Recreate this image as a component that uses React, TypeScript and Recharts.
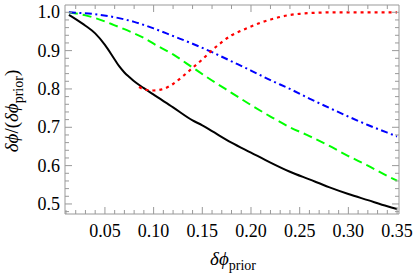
import { Line, LineChart, XAxis, YAxis } from 'recharts'

// values
const blackX = [0.013, 0.02, 0.03, 0.04, 0.05, 0.06, 0.065, 0.07, 0.075, 0.08, 0.09, 0.1, 0.12, 0.14, 0.15, 0.16, 0.18, 0.2, 0.22, 0.24, 0.26, 0.28, 0.3, 0.32, 0.34, 0.35]
const blackY = [0.993, 0.982, 0.965, 0.945, 0.915, 0.877, 0.858, 0.843, 0.831, 0.82, 0.802, 0.785, 0.752, 0.718, 0.705, 0.69, 0.66, 0.634, 0.608, 0.584, 0.564, 0.544, 0.526, 0.51, 0.494, 0.487]

const greenX = [0.013, 0.02, 0.03, 0.04, 0.05, 0.06, 0.07, 0.08, 0.09, 0.1, 0.12, 0.14, 0.16, 0.18, 0.2, 0.22, 0.24, 0.26, 0.28, 0.3, 0.32, 0.34, 0.35]
const greenY = [1.0, 0.997, 0.992, 0.985, 0.976, 0.966, 0.956, 0.945, 0.933, 0.918, 0.89, 0.856, 0.822, 0.79, 0.758, 0.728, 0.7, 0.677, 0.652, 0.625, 0.6, 0.573, 0.561]

const blueX = [0.013, 0.02, 0.04, 0.06, 0.08, 0.1, 0.12, 0.14, 0.16, 0.18, 0.2, 0.22, 0.24, 0.26, 0.28, 0.3, 0.32, 0.34, 0.35]
const blueY = [1.0, 0.999, 0.995, 0.987, 0.975, 0.958, 0.938, 0.918, 0.896, 0.872, 0.848, 0.823, 0.8, 0.775, 0.751, 0.728, 0.706, 0.686, 0.676]

const redX = [0.085, 0.09, 0.095, 0.1, 0.105, 0.11, 0.12, 0.13, 0.14, 0.15, 0.16, 0.17, 0.18, 0.19, 0.2, 0.21, 0.22, 0.23, 0.24, 0.25, 0.26, 0.27, 0.28, 0.3, 0.32, 0.35]
const redY = [0.805, 0.799, 0.797, 0.796, 0.797, 0.8, 0.813, 0.833, 0.855, 0.877, 0.901, 0.922, 0.94, 0.952, 0.963, 0.973, 0.981, 0.988, 0.993, 0.996, 0.998, 0.999, 1.0, 1.0, 1.0, 1.0]

const bottomTicks = [0.01, 0.02, 0.03, 0.04, 0.05, 0.06, 0.07, 0.08, 0.09, 0.1, 0.11, 0.12, 0.13, 0.14, 0.15, 0.16, 0.17, 0.18, 0.19, 0.2, 0.21, 0.22, 0.23, 0.24, 0.25, 0.26, 0.27, 0.28, 0.29, 0.3, 0.31, 0.32, 0.33, 0.34, 0.35]
const topTicks = [0.02, 0.04, 0.06, 0.08, 0.1, 0.12, 0.14, 0.16, 0.18, 0.2, 0.22, 0.24, 0.26, 0.28, 0.3, 0.32, 0.34]
const sideTicks = [0.48, 0.5, 0.52, 0.54, 0.56, 0.58, 0.6, 0.62, 0.64, 0.66, 0.68, 0.7, 0.72, 0.74, 0.76, 0.78, 0.8, 0.82, 0.84, 0.86, 0.88, 0.9, 0.92, 0.94, 0.96, 0.98, 1.0]

const xDomain = [0.009, 0.352]
const yDomain = [0.4738, 1.019]

const frame = '#999'
const serif = 'Liberation Serif'

const pts = (xs: number[], ys: number[]) => xs.map((x, i) => ({ x, y: ys[i] }))
const isStep = (v: number, n: number) => Math.abs(v * n - Math.round(v * n)) < 1e-6

function BottomTick({ x, y, payload }: any) {
  const v = payload.value
  const major = isStep(v, 20)
  return (
    <g>
      <line x1={x} x2={x} y1={y} y2={y - (major ? 7 : 4)} stroke={frame} />
      {major && (
        <text x={x} y={y + 23} textAnchor="middle" fontFamily={serif} fontSize={18} fill="#000">
          {v.toFixed(2)}
        </text>
      )}
    </g>
  )
}

function TopTick({ x, y, payload }: any) {
  const major = isStep(payload.value, 10)
  return <line x1={x} x2={x} y1={y} y2={y + (major ? 7 : 4)} stroke={frame} />
}

function LeftTick({ x, y, payload }: any) {
  const v = payload.value
  const major = isStep(v, 10)
  return (
    <g>
      <line x1={x} x2={x + (major ? 7 : 4)} y1={y} y2={y} stroke={frame} />
      {major && (
        <text x={x - 5} y={y + 6} textAnchor="end" fontFamily={serif} fontSize={18} fill="#000">
          {v.toFixed(1)}
        </text>
      )}
    </g>
  )
}

function RightTick({ x, y, payload }: any) {
  const major = isStep(payload.value, 10)
  return <line x1={x} x2={x - (major ? 7 : 4)} y1={y} y2={y} stroke={frame} />
}

const xLabel = () => (
  <text x={233} y={265} textAnchor="middle" fontFamily={serif} fontSize={19} fill="#000">
    <tspan fontStyle="italic">δϕ</tspan>
    <tspan fontSize={14} dy={5}>prior</tspan>
  </text>
)

const yLabel = () => (
  <text
    transform="rotate(-90)"
    x={-111}
    y={18}
    textAnchor="middle"
    fontFamily={serif}
    fontSize={19}
    fill="#000"
  >
    <tspan fontStyle="italic">δϕ</tspan>
    <tspan>/(</tspan>
    <tspan fontStyle="italic">δϕ</tspan>
    <tspan fontSize={14} dy={5}>prior</tspan>
    <tspan dy={-5}>)</tspan>
  </text>
)

export default function App() {
  return (
    <div style={{ position: 'fixed', left: 0, top: 0, background: '#fff' }}>
      <LineChart width={415} height={277} margin={{ top: 0, right: 0, left: 0, bottom: 0 }}>
        <XAxis
          xAxisId="bottom"
          type="number"
          dataKey="x"
          domain={xDomain}
          allowDataOverflow
          ticks={bottomTicks}
          interval={0}
          tickSize={0}
          tickMargin={0}
          tickLine={false}
          tick={<BottomTick />}
          axisLine={{ stroke: frame }}
          height={63}
          label={xLabel}
        />
        <XAxis
          xAxisId="top"
          orientation="top"
          type="number"
          dataKey="x"
          domain={xDomain}
          allowDataOverflow
          ticks={topTicks}
          interval={0}
          tickSize={0}
          tickMargin={0}
          tickLine={false}
          tick={<TopTick />}
          axisLine={{ stroke: frame }}
          height={5}
        />
        <YAxis
          yAxisId="left"
          type="number"
          domain={yDomain}
          allowDataOverflow
          ticks={sideTicks}
          interval={0}
          tickSize={0}
          tickMargin={0}
          tickLine={false}
          tick={<LeftTick />}
          axisLine={{ stroke: frame }}
          width={65}
          label={yLabel}
        />
        <YAxis
          yAxisId="right"
          orientation="right"
          type="number"
          domain={yDomain}
          allowDataOverflow
          ticks={sideTicks}
          interval={0}
          tickSize={0}
          tickMargin={0}
          tickLine={false}
          tick={<RightTick />}
          axisLine={{ stroke: frame }}
          width={16}
        />
        <Line
          xAxisId="bottom"
          yAxisId="left"
          data={pts(blackX, blackY)}
          dataKey="y"
          type="monotone"
          stroke="#000"
          strokeWidth={2}
          dot={false}
          isAnimationActive={false}
        />
        <Line
          xAxisId="bottom"
          yAxisId="left"
          data={pts(greenX, greenY)}
          dataKey="y"
          type="monotone"
          stroke="#00ff00"
          strokeWidth={2}
          strokeDasharray="9 5"
          dot={false}
          isAnimationActive={false}
        />
        <Line
          xAxisId="bottom"
          yAxisId="left"
          data={pts(blueX, blueY)}
          dataKey="y"
          type="monotone"
          stroke="#0000ff"
          strokeWidth={2}
          strokeDasharray="7 3.5 2 3.5"
          dot={false}
          isAnimationActive={false}
        />
        <Line
          xAxisId="bottom"
          yAxisId="left"
          data={pts(redX, redY)}
          dataKey="y"
          type="monotone"
          stroke="#ff0000"
          strokeWidth={2.2}
          strokeDasharray="3 4"
          dot={false}
          isAnimationActive={false}
        />
      </LineChart>
    </div>
  )
}
